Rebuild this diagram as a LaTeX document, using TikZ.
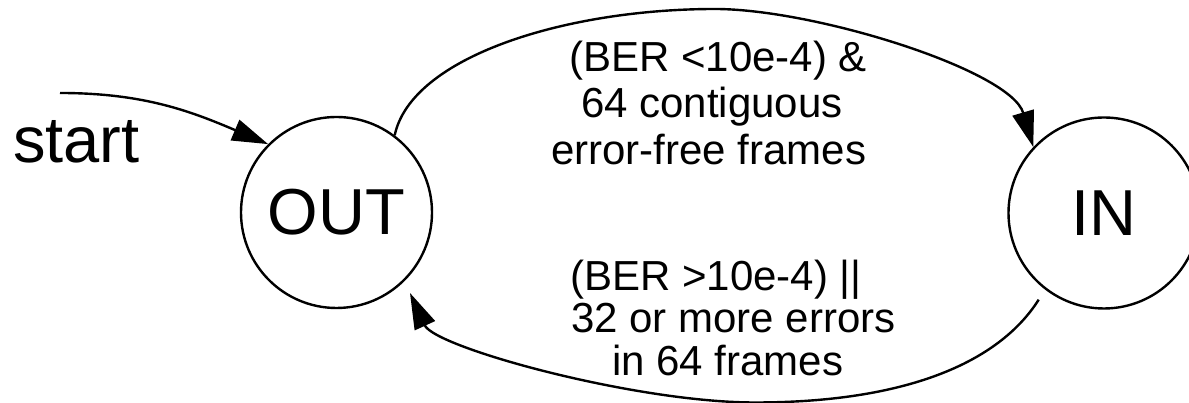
\documentclass[tikz,border=0pt]{standalone}
\usepackage{fontspec}
\setmainfont{Liberation Sans}
\usetikzlibrary{arrows.meta,calc}
\begin{document}
\begin{tikzpicture}[x=1pt,y=1pt,
  state/.style={circle, draw, line width=2.4pt, minimum size=191pt, inner sep=0pt,
                font=\fontsize{65}{78}\selectfont},
  edge/.style={line width=2.4pt, -{Triangle[length=36pt,width=22pt]}},
  cond/.style={anchor=base west, inner sep=0pt, font=\fontsize{42}{50}\selectfont}]

\fill[white] (0,0) rectangle (1189,403);
\useasboundingbox (0,0) rectangle (1189,403);

% the two states
\node[state] (out) at (336.5,190.5) {OUT};
\node[state] (in)  at (1104,190) {IN};

% initial transition
\node[anchor=base west, inner sep=0pt, font=\fontsize{65}{78}\selectfont] (start) at (13,240) {start};
\coordinate (startFrom) at (60,310);
\draw[edge] (startFrom) to[out=0,in=157] (out.135);

% OUT -> IN
\coordinate (topPeak) at (715,394);
\draw[edge] (out.53) .. controls +(78:80) and +(180:150) .. (topPeak)
                     .. controls +(0:100) and +(106.4:80) .. (in.137.5);

% IN -> OUT
\coordinate (backFrom) at ($(in.center)+(-127:108.5)$);
\coordinate (backTo)   at ($(out.center)+(-47.6:109)$);
\coordinate (botLow)   at (755,0.5);
\draw[edge] (backFrom) .. controls +(-122.3:75) and +(0:150) .. (botLow)
                       .. controls +(180:120) and +(-65.5:60) .. (backTo);

% transition conditions
\node[cond] (up1) at (569,331) {(BER <10e-4) \&};
\node[cond] (up2) at (581,285) {64 contiguous};
\node[cond] (up3) at (551,238) {error-free frames};
\node[cond] (dn1) at (570,112) {(BER >10e-4) ||};
\node[cond] (dn2) at (571,70)  {32 or more errors};
\node[cond] (dn3) at (612,27)  {in 64 frames};
\end{tikzpicture}
\end{document}
